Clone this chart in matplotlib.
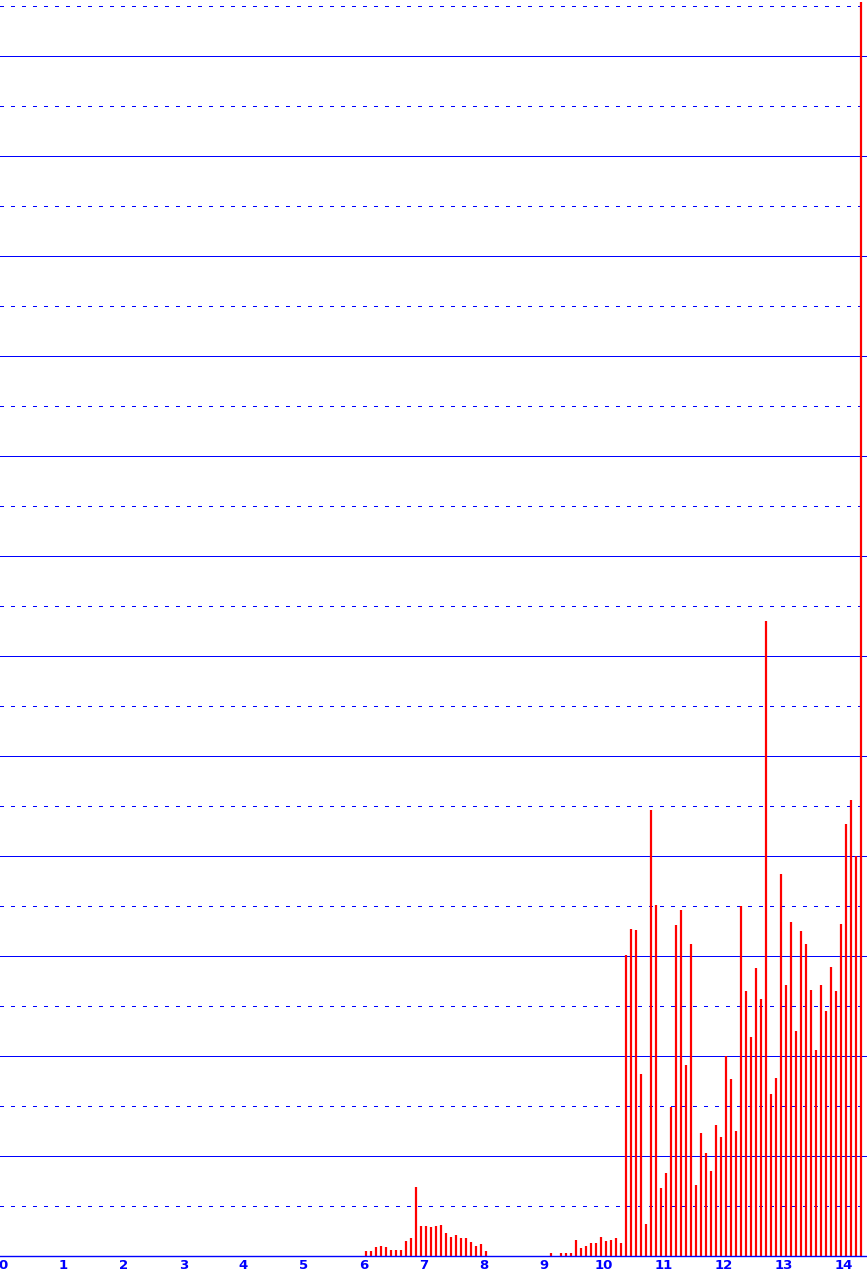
## Histogram of counts per 1/12 bin, drawn as thin red bars
import matplotlib.pyplot as plt
import numpy as np

# bins are 1/12 wide; first listed bin starts at 6.0
bin_width = 1 / 12
first_bin = 6.0
# bar heights, one per bin from 6.0 up to 14.333
heights = [
    0.05, 0.05, 0.09, 0.10, 0.09, 0.06, 0.06, 0.06, 0.15, 0.18, 0.69, 0.30,   # 6
    0.30, 0.29, 0.30, 0.31, 0.23, 0.19, 0.21, 0.18, 0.18, 0.14, 0.10, 0.12,   # 7
    0.05, 0.00, 0.00, 0.00, 0.00, 0.00, 0.00, 0.00, 0.00, 0.00, 0.00, 0.00,   # 8
    0.00, 0.027, 0.00, 0.027, 0.027, 0.027, 0.16, 0.08, 0.10, 0.13, 0.13, 0.19,  # 9
    0.15, 0.16, 0.18, 0.13, 3.01, 3.27, 3.26, 1.82, 0.32, 4.46, 3.51, 0.68,   # 10
    0.83, 1.49, 3.31, 3.46, 1.91, 3.12, 0.71, 1.23, 1.03, 0.85, 1.31, 1.19,   # 11
    2.00, 1.77, 1.25, 3.50, 2.65, 2.19, 2.88, 2.57, 6.35, 1.62, 1.78, 3.82,   # 12
    2.71, 3.34, 2.25, 3.25, 3.12, 2.66, 2.06, 2.71, 2.45, 2.89, 2.65, 3.32,   # 13
    4.32, 4.56, 4.00, 12.54,                                                  # 14
]
tick_values = list(range(15))
tick_labels = [str(t) for t in tick_values]

blue = '#0000ff'
red = '#ff0000'

centers = first_bin + (np.arange(len(heights)) + 0.5) * bin_width
heights = np.array(heights)
keep = heights > 0

fig = plt.figure(figsize=(8.67, 12.76), dpi=100)
ax = fig.add_axes([0, 20 / 1276, 1, 1256 / 1276])

# solid grid on whole units, dotted halfway between
for y in np.arange(1, 13):
    ax.axhline(y, color=blue, lw=0.72, antialiased=False, zorder=1)
for y in np.arange(0.5, 13, 1.0):
    ax.axhline(y, color=blue, lw=0.72, linestyle=(0, (3, 7)),
               dash_capstyle='butt', antialiased=False, zorder=1)

# each bar is a 2 px red stroke
ax.vlines(centers[keep], 0, heights[keep], colors=red, lw=1.6,
          capstyle='butt', zorder=3)

ax.set_xlim(-3.5 / 60, (867 - 3.5) / 60)
ax.set_ylim(0, 12.56)
ax.set_xticks(tick_values)
ax.set_xticklabels(tick_labels, fontweight='bold')
ax.tick_params(axis='x', length=0, pad=2, labelsize=9.5, labelcolor=blue)
ax.set_yticks([])
for side in ['top', 'right', 'left']:
    ax.spines[side].set_visible(False)
ax.spines['bottom'].set_color(blue)
ax.spines['bottom'].set_linewidth(1.0)
ax.spines['bottom'].set_zorder(4)

fig.savefig('out.png', dpi=100)
